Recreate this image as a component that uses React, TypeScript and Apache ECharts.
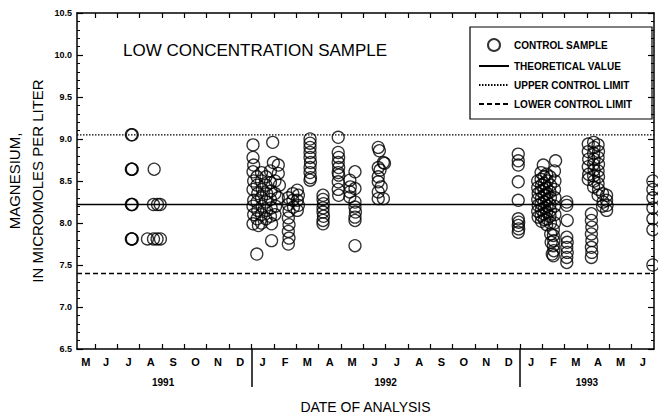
import React, { useEffect, useRef } from "react";
import * as echarts from "echarts";

// x values are months elapsed since 1 May 1991
const xMin = 0.2;
const xMax = 26;
const monthLetters = ["M", "J", "J", "A", "S", "O", "N", "D", "J", "F", "M", "A", "M", "J", "J", "A", "S", "O", "N", "D", "J", "F", "M", "A", "M", "J"];
const years = ["1991", "1992", "1993"];
const yearCenters = [4.05, 14, 23];
const yearBreaks = [8, 20];
const yMin = 6.5;
const yMax = 10.5;
const yStep = 0.5;

const theoreticalValue = 8.22;
const upperControlLimit = 9.05;
const lowerControlLimit = 7.4;

const samples1991: number[][] = [
  [2.63, 9.05], [2.67, 9.05],
  [2.63, 8.64], [2.67, 8.64], [2.65, 8.64],
  [2.63, 8.22], [2.67, 8.22], [2.65, 8.22],
  [2.63, 7.81], [2.67, 7.81], [2.65, 7.81],
  [3.65, 8.64],
  [3.62, 8.22], [3.8, 8.22], [3.92, 8.22],
  [3.35, 7.81], [3.62, 7.81], [3.78, 7.81], [3.93, 7.81],
];

const samplesWinter1992: number[][] = [
  [8.07, 8.93], [8.07, 8.78], [8.1, 8.69], [8.07, 8.61], [8.1, 8.5], [8.07, 8.4], [8.1, 8.27], [8.07, 8.2], [8.1, 8.1], [8.07, 7.99], [8.24, 7.63],
  [8.25, 8.55], [8.25, 8.45], [8.28, 8.35], [8.25, 8.25], [8.28, 8.15], [8.25, 8.05], [8.31, 7.97],
  [8.45, 8.6], [8.45, 8.5], [8.48, 8.4], [8.45, 8.3], [8.48, 8.2], [8.45, 8.1], [8.45, 8.0],
  [8.65, 8.55], [8.65, 8.45], [8.68, 8.35], [8.65, 8.25], [8.68, 8.15], [8.65, 8.05],
  [8.85, 8.62], [8.85, 8.48], [8.88, 8.38], [8.85, 8.28], [8.88, 8.18], [8.85, 8.08], [8.9, 7.99], [8.9, 7.79],
  [8.95, 8.96], [8.98, 8.72],
  [9.05, 8.5], [9.05, 8.35], [9.08, 8.2], [9.05, 8.1],
  [9.2, 8.69], [9.2, 8.59], [9.25, 8.45], [9.2, 8.3],
  [9.65, 8.3], [9.65, 8.22], [9.68, 8.14], [9.65, 8.06], [9.68, 7.98], [9.65, 7.9], [9.68, 7.82], [9.65, 7.75],
  [9.85, 8.35], [9.85, 8.27], [9.88, 8.19],
  [10.05, 8.39], [10.1, 8.33], [10.05, 8.27], [10.1, 8.21], [10.05, 8.15],
];

const samplesSpring1992: number[][] = [
  [10.62, 9.0], [10.62, 8.95], [10.62, 8.9], [10.62, 8.84], [10.62, 8.78], [10.64, 8.72], [10.62, 8.66], [10.62, 8.6], [10.64, 8.54], [10.62, 8.51],
  [11.2, 8.33], [11.2, 8.28], [11.22, 8.23], [11.2, 8.18], [11.2, 8.13], [11.22, 8.08], [11.2, 8.03], [11.2, 7.99],
  [11.88, 9.02], [11.88, 8.84], [11.9, 8.78], [11.88, 8.72], [11.9, 8.66], [11.88, 8.6], [11.9, 8.57], [11.88, 8.49], [11.88, 8.4], [11.9, 8.33],
  [12.4, 8.51], [12.42, 8.43], [12.4, 8.37], [12.4, 8.31], [12.63, 8.61], [12.63, 8.41], [12.63, 8.25], [12.63, 8.19], [12.65, 8.13], [12.63, 8.07], [12.63, 8.03], [12.63, 7.73],
  [13.67, 8.9], [13.72, 8.86], [13.9, 8.72], [13.95, 8.71], [13.67, 8.66], [13.75, 8.63], [13.67, 8.55], [13.67, 8.49], [13.8, 8.43], [13.67, 8.37], [13.67, 8.29], [13.9, 8.29],
];

const samplesWinter1993: number[][] = [
  [19.93, 8.82], [19.93, 8.74], [19.93, 8.69], [19.93, 8.49], [19.93, 8.27], [19.93, 8.05], [19.95, 8.01], [19.93, 7.97], [19.95, 7.93], [19.93, 7.89],
  [20.8, 8.5], [20.8, 8.42], [20.82, 8.35], [20.8, 8.28], [20.82, 8.21], [20.8, 8.14], [20.82, 8.07],
  [20.95, 8.6], [20.95, 8.52], [20.97, 8.45], [20.95, 8.38], [20.97, 8.3], [20.95, 8.23], [20.97, 8.16], [20.95, 8.09], [20.97, 8.02],
  [21.05, 8.69], [21.08, 8.55], [21.1, 8.47], [21.08, 8.4], [21.1, 8.33], [21.08, 8.25], [21.1, 8.18], [21.08, 8.11], [21.1, 8.04],
  [21.2, 8.58], [21.22, 8.5], [21.2, 8.42], [21.22, 8.35], [21.2, 8.27], [21.22, 8.2], [21.2, 8.13], [21.22, 8.05], [21.2, 7.98],
  [21.35, 8.55], [21.37, 8.45], [21.35, 8.37], [21.37, 8.3], [21.35, 8.22], [21.37, 8.15], [21.35, 8.08], [21.37, 8.0],
  [21.6, 8.74], [21.55, 8.62], [21.57, 8.5], [21.55, 8.4], [21.57, 8.3], [21.55, 8.2], [21.57, 8.1], [21.55, 8.0], [21.5, 7.92],
  [21.5, 7.85], [21.52, 7.79], [21.5, 7.73], [21.52, 7.67], [21.5, 7.61], [21.38, 7.87], [21.4, 7.77], [21.45, 7.63],
  [22.1, 8.25], [22.1, 8.21], [22.12, 8.03], [22.1, 7.83], [22.12, 7.77], [22.1, 7.71], [22.12, 7.65], [22.1, 7.59], [22.1, 7.53],
];

const samplesSpring1993: number[][] = [
  [23.06, 8.94], [23.06, 8.85], [23.08, 8.76], [23.06, 8.67], [23.08, 8.58], [23.06, 8.52],
  [23.3, 8.96], [23.32, 8.9], [23.3, 8.83], [23.32, 8.76], [23.3, 8.7], [23.32, 8.63], [23.3, 8.56], [23.32, 8.5], [23.3, 8.43],
  [23.5, 8.93], [23.52, 8.85], [23.5, 8.78], [23.52, 8.7], [23.5, 8.62], [23.52, 8.55], [23.5, 8.47], [23.52, 8.4], [23.5, 8.33],
  [23.7, 8.35], [23.72, 8.25], [23.7, 8.2],
  [23.88, 8.33], [23.88, 8.27], [23.9, 8.21], [23.88, 8.15],
  [23.2, 8.11], [23.2, 8.03], [23.22, 7.95], [23.2, 7.87], [23.22, 7.79], [23.2, 7.71], [23.22, 7.65], [23.2, 7.59],
];

const samplesJune1993: number[][] = [
  [25.95, 8.5], [25.95, 8.4], [25.95, 8.3], [25.95, 8.18], [25.95, 8.05], [25.95, 7.92], [25.95, 7.5],
];

const monthBoundaries = monthLetters.slice(1).map((_, i) => i + 1);
const monthLabelPositions = monthLetters.map((_, i) => (i === 0 ? 0.6 : i + 0.5));

const FONT = "'Liberation Sans', Arial, sans-serif";
const axisLineStyle = { color: "#000", width: 1.5 };
const hiddenSymbol = { color: "rgba(0,0,0,0)", borderWidth: 0, opacity: 0 };

export default function App() {
  const ref = useRef<HTMLDivElement>(null);

  useEffect(() => {
    if (!ref.current) return;
    const chart = echarts.init(ref.current, null, { renderer: "svg" });
    const allSamples = [
      ...samples1991,
      ...samplesWinter1992,
      ...samplesSpring1992,
      ...samplesWinter1993,
      ...samplesSpring1993,
      ...samplesJune1993,
    ];
    const nearestIndex = (arr: number[], v: number) => {
      let best = 0;
      arr.forEach((a, i) => {
        if (Math.abs(a - v) < Math.abs(arr[best] - v)) best = i;
      });
      return best;
    };
    const hLine = (v: number) => [[xMin, v], [xMax, v]];

    chart.setOption({
      animation: false,
      backgroundColor: "#fff",
      textStyle: { fontFamily: FONT, color: "#000" },
      title: {
        text: "LOW CONCENTRATION SAMPLE",
        left: 118,
        top: 37,
        textStyle: { fontSize: 17, fontWeight: "normal", color: "#000", fontFamily: FONT },
      },
      legend: {
        orient: "vertical",
        left: 470,
        top: 27,
        padding: [11, 8, 10, 8],
        itemWidth: 30,
        itemHeight: 12,
        itemGap: 9,
        selectedMode: false,
        textStyle: { fontSize: 10, fontWeight: "bold", color: "#000", fontFamily: FONT },
        data: [
          { name: "CONTROL SAMPLE" },
          { name: "THEORETICAL VALUE", itemStyle: hiddenSymbol },
          { name: "UPPER CONTROL LIMIT", itemStyle: hiddenSymbol },
          { name: "LOWER CONTROL LIMIT", itemStyle: hiddenSymbol },
        ],
      },
      grid: { left: 77, right: 4, top: 13, bottom: 68, outerBoundsMode: "none" },
      xAxis: [
        {
          type: "value",
          min: xMin,
          max: xMax,
          position: "bottom",
          axisLine: { show: true, onZero: false, lineStyle: axisLineStyle },
          axisTick: { show: true, inside: true, length: 5, customValues: monthBoundaries, lineStyle: { color: "#000", width: 1.2 } },
          axisLabel: {
            customValues: monthLabelPositions,
            formatter: (v: number) => monthLetters[Math.floor(v)],
            fontSize: 11,
            fontWeight: "bold",
            color: "#000",
            margin: 7,
            fontFamily: FONT,
          },
          splitLine: { show: false },
          name: "DATE OF ANALYSIS",
          nameLocation: "middle",
          nameGap: 51,
          nameTextStyle: { fontSize: 14, color: "#000", fontFamily: FONT },
        },
        {
          type: "value",
          min: xMin,
          max: xMax,
          position: "bottom",
          axisLine: { show: false, onZero: false },
          axisTick: { show: true, inside: false, length: 38, customValues: yearBreaks, lineStyle: { color: "#000", width: 1.5 } },
          axisLabel: {
            customValues: yearCenters,
            formatter: (v: number) => years[nearestIndex(yearCenters, v)],
            fontSize: 10,
            fontWeight: "bold",
            color: "#000",
            margin: 28,
            fontFamily: FONT,
          },
          splitLine: { show: false },
        },
        {
          type: "value",
          min: xMin,
          max: xMax,
          position: "top",
          axisLine: { show: true, onZero: false, lineStyle: axisLineStyle },
          axisTick: { show: true, inside: true, length: 5, customValues: monthBoundaries, lineStyle: { color: "#000", width: 1.2 } },
          axisLabel: { show: false },
          splitLine: { show: false },
        },
      ],
      yAxis: [
        {
          type: "value",
          min: yMin,
          max: yMax,
          interval: yStep,
          position: "left",
          axisLine: { show: true, onZero: false, lineStyle: axisLineStyle },
          axisTick: { show: true, inside: true, length: 6, lineStyle: { color: "#000", width: 1.2 } },
          minorTick: { show: true, splitNumber: 5, length: 3, lineStyle: { color: "#000", width: 1 } },
          axisLabel: {
            formatter: (v: number) => v.toFixed(1),
            fontSize: 9,
            fontWeight: "bold",
            color: "#000",
            margin: 5,
            fontFamily: FONT,
          },
          splitLine: { show: false },
          minorSplitLine: { show: false },
        },
        {
          type: "value",
          min: yMin,
          max: yMax,
          interval: yStep,
          position: "right",
          axisLine: { show: true, onZero: false, lineStyle: axisLineStyle },
          axisTick: { show: true, inside: true, length: 6, lineStyle: { color: "#000", width: 1.2 } },
          minorTick: { show: true, splitNumber: 5, length: 3, lineStyle: { color: "#000", width: 1 } },
          axisLabel: { show: false },
          splitLine: { show: false },
          minorSplitLine: { show: false },
        },
      ],
      series: [
        {
          name: "CONTROL SAMPLE",
          type: "scatter",
          xAxisIndex: 0,
          yAxisIndex: 0,
          data: allSamples,
          symbol: "circle",
          symbolSize: 12,
          itemStyle: { color: "rgba(0,0,0,0)", borderColor: "#000", borderWidth: 1.3 },
          emphasis: { disabled: true },
          z: 3,
        },
        {
          name: "THEORETICAL VALUE",
          type: "line",
          xAxisIndex: 0,
          yAxisIndex: 0,
          data: hLine(theoreticalValue),
          symbol: "none",
          lineStyle: { color: "#000", width: 1.6, type: "solid" },
          itemStyle: hiddenSymbol,
          z: 2,
        },
        {
          name: "UPPER CONTROL LIMIT",
          type: "line",
          xAxisIndex: 0,
          yAxisIndex: 0,
          data: hLine(upperControlLimit),
          symbol: "none",
          lineStyle: { color: "#000", width: 1.3, type: [1.5, 1.5] },
          itemStyle: hiddenSymbol,
          z: 2,
        },
        {
          name: "LOWER CONTROL LIMIT",
          type: "line",
          xAxisIndex: 0,
          yAxisIndex: 0,
          data: hLine(lowerControlLimit),
          symbol: "none",
          lineStyle: { color: "#000", width: 1.5, type: [5, 3] },
          itemStyle: hiddenSymbol,
          z: 2,
        },
      ],
      graphic: [
        {
          type: "rect",
          shape: { x: 470, y: 27, width: 182, height: 92 },
          style: { fill: "none", stroke: "#000", lineWidth: 1.2 },
          z: 10,
          silent: true,
        },
        {
          type: "text",
          x: 26,
          y: 181,
          rotation: Math.PI / 2,
          style: {
            text: "MAGNESIUM,\nIN MICROMOLES PER LITER",
            font: `15px ${FONT}`,
            fill: "#000",
            align: "center",
            verticalAlign: "middle",
            lineHeight: 23,
          },
          silent: true,
        },
      ],
    });
    return () => chart.dispose();
  }, []);

  return <div ref={ref} style={{ width: 658, height: 417, position: "absolute", left: 0, top: 0 }} />;
}
